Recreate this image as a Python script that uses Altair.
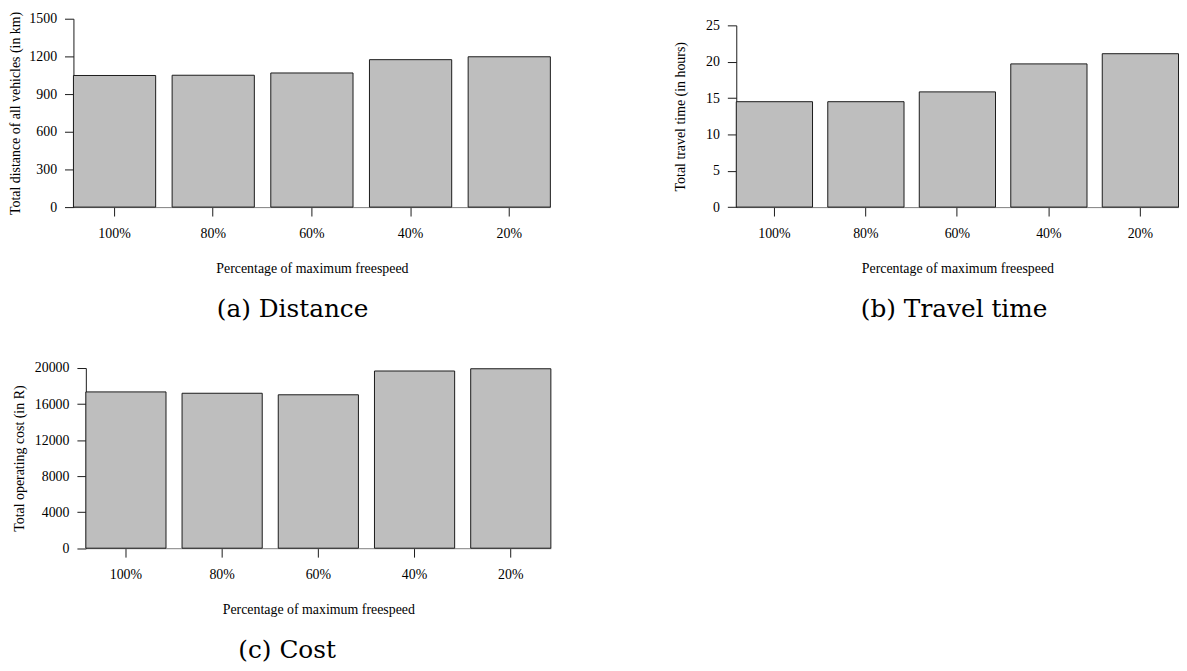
import altair as alt
import pandas as pd

categories = ["100%", "80%", "60%", "40%", "20%"]
distance = [1048, 1050, 1068, 1174, 1197]
travel_time = [14.5, 14.5, 15.85, 19.7, 21.1]
cost = [17350, 17200, 17030, 19670, 19920]

dist_ticks = [0, 300, 600, 900, 1200, 1500]
time_ticks = [0, 5, 10, 15, 20, 25]
cost_ticks = [0, 4000, 8000, 12000, 16000, 20000]

x_title = "Percentage of maximum freespeed"
SERIF = "Liberation Serif"
CAP_FONT = "DejaVu Serif"


def panel(values, ticks, ytitle, caption, width, height, ytitle_pad, ylabel_pad, cap_dx, cap_offset):
    df = pd.DataFrame({"cat": categories, "val": values})
    return (
        alt.Chart(df)
        .mark_bar(fill="#BEBEBE", stroke="#1a1a1a", strokeWidth=1)
        .encode(
            x=alt.X(
                "cat:N",
                sort=categories,
                scale=alt.Scale(paddingInner=0.1667, paddingOuter=0),
                axis=alt.Axis(
                    title=x_title,
                    labelAngle=0,
                    tickSize=9,
                    labelPadding=11,
                    titlePadding=21,
                    domainColor="#808080",
                    tickColor="#1a1a1a",
                ),
            ),
            y=alt.Y(
                "val:Q",
                scale=alt.Scale(domain=[ticks[0], ticks[-1]], nice=False, zero=True),
                axis=alt.Axis(
                    title=ytitle,
                    values=ticks,
                    tickSize=9,
                    labelPadding=ylabel_pad,
                    titlePadding=ytitle_pad,
                    domainColor="#1a1a1a",
                    tickColor="#1a1a1a",
                    format="d",
                ),
            ),
        )
        .properties(
            width=width,
            height=height,
            title=alt.TitleParams(
                text=caption,
                orient="bottom",
                anchor="middle",
                frame="group",
                dx=cap_dx,
                offset=cap_offset,
                font=CAP_FONT,
                fontSize=25,
                fontWeight="normal",
                color="black",
            ),
        )
    )


def spacer(w, h):
    return (
        alt.Chart(pd.DataFrame({"v": [0]}))
        .mark_point(opacity=0)
        .properties(width=w, height=h)
    )


a = panel(distance, dist_ticks, "Total distance of all vehicles (in km)", "(a) Distance",
          481, 190, 6, 8, -19.5, 22)
b = panel(travel_time, time_ticks, "Total travel time (in hours)", "(b) Travel time",
          446, 183.3, 18, 8, -3.3, 22)
c = panel(cost, cost_ticks, "Total operating cost (in R)", "(c) Cost",
          469, 181.7, 8, 8, -31.5, 22)

col_b = alt.vconcat(spacer(1, 1), b, spacing=5.7, bounds="flush")
row1 = alt.hconcat(a, col_b, spacing=187.5, bounds="flush")
row2 = alt.hconcat(spacer(1, 1), c, spacing=11.5, bounds="flush")

chart = (
    alt.vconcat(row1, row2, spacing=352.3, bounds="flush")
    .properties(padding={"left": 1, "top": 0, "right": 0, "bottom": 0})
    .configure_view(stroke=None)
    .configure_axis(
        grid=False,
        labelFont=SERIF,
        titleFont=SERIF,
        labelFontSize=14,
        titleFontSize=14,
        titleFontWeight="normal",
        labelColor="black",
        titleColor="black",
        domainWidth=1,
        tickWidth=1,
    )
    .configure_title(font=CAP_FONT)
)

chart.save("out.html", embed_options={"renderer": "svg", "actions": False})
